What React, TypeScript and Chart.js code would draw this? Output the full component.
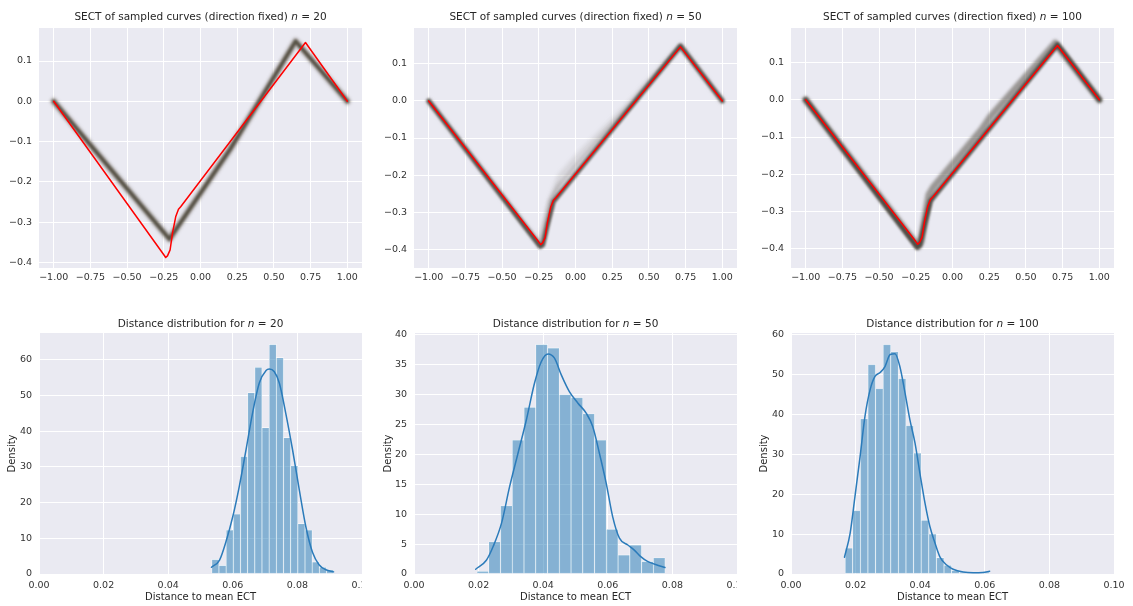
import React, { useEffect, useRef } from 'react';
import { Chart, registerables } from 'chart.js';

Chart.register(...registerables);
Chart.defaults.font.family = "'DejaVu Sans'";

// ---------------- data ----------------
const topXTicks = [-1, -0.75, -0.5, -0.25, 0, 0.25, 0.5, 0.75, 1];
const topYTicks = [-0.4, -0.3, -0.2, -0.1, 0, 0.1];
const histXTicks = [0, 0.02, 0.04, 0.06, 0.08, 0.1];
const hist20YTicks = [0, 10, 20, 30, 40, 50, 60];
const hist50YTicks = [0, 5, 10, 15, 20, 25, 30, 35, 40];
const hist100YTicks = [0, 10, 20, 30, 40, 50, 60];

// true (red) curve
const trueX = [-1, -0.25, -0.237, -0.225, -0.207, -0.191, -0.169, -0.15, -0.135, 0.715, 1];
const trueY = [0, -0.381, -0.388, -0.384, -0.369, -0.328, -0.287, -0.268, -0.262, 0.146, 0];

// sampled curves, n = 20
const band20X = [-1, -0.212, 0.2, 0.4, 0.648, 1];
const band20Y = [0, -0.342, -0.12, 0.0, 0.149, 0];

// sampled curves, n = 50
const band50X = [-1, -0.24, -0.222, -0.19, -0.15, -0.13, 0.715, 1];
const band50Y = [0, -0.393, -0.389, -0.335, -0.272, -0.262, 0.149, 0];
const spread50X = [-1, -0.24, -0.17, -0.11, 0.0, 0.1, 0.25, 0.4, 0.715, 1];
const spread50UpperY = [0, -0.39, -0.27, -0.205, -0.155, -0.114, -0.055, 0.007, 0.15, 0];
const spread50MidY = [0, -0.39, -0.27, -0.228, -0.176, -0.132, -0.066, 0.001, 0.148, 0];

// sampled curves, n = 100
const core100X = [-1, -0.24, -0.222, -0.19, -0.15, -0.13, 0.715, 1];
const core100Y = [0, -0.396, -0.39, -0.335, -0.272, -0.262, 0.148, 0];
const band100X = [-1, -0.235, -0.215, -0.16, -0.13, 0.2, 0.26, 0.7, 1];
const band100Y = [0, -0.394, -0.38, -0.255, -0.235, -0.08, -0.045, 0.152, 0];

// histograms
const hist20Centers = [0.05461, 0.05683, 0.05905, 0.06127, 0.06349, 0.06571, 0.06793, 0.07015, 0.07237, 0.07459, 0.07681, 0.07903, 0.08125, 0.08347, 0.08569, 0.08791, 0.09013];
const hist20Heights = [4.1, 2.4, 12.3, 16.8, 32.9, 50.8, 57.9, 41.0, 64.3, 60.6, 38.2, 30.3, 14.1, 12.3, 3.4, 1.9, 1.1];
const kde20X = [0.0534, 0.0559, 0.0579, 0.06, 0.062, 0.0641, 0.0661, 0.0682, 0.0703, 0.0713, 0.0728, 0.0744, 0.0764, 0.0785, 0.0806, 0.0826, 0.0847, 0.0867, 0.0888, 0.0912];
const kde20Y = [1.9, 3.9, 9.1, 16.1, 24.5, 34.8, 45.0, 53.5, 57.0, 57.4, 56.7, 53.5, 45.0, 34.8, 23.5, 13.3, 6.0, 2.6, 1.2, 0.6];

const hist50Centers = [0.02132, 0.02496, 0.0286, 0.03224, 0.03588, 0.03952, 0.04316, 0.0468, 0.05044, 0.05408, 0.05772, 0.06136, 0.065, 0.06864, 0.07228, 0.07592];
const hist50Heights = [0.45, 5.4, 11.4, 22.4, 27.9, 38.4, 37.8, 30.0, 29.5, 26.8, 22.4, 7.5, 3.2, 4.85, 2.1, 2.7];
const kde50X = [0.0191, 0.0224, 0.0245, 0.0271, 0.0296, 0.0322, 0.0348, 0.0373, 0.0394, 0.0415, 0.0435, 0.0456, 0.0481, 0.0507, 0.0533, 0.0553, 0.0574, 0.0595, 0.0615, 0.0636, 0.0662, 0.0682, 0.0702, 0.0723, 0.0777];
const kde50Y = [0.8, 2.3, 4.6, 8.5, 14.6, 20.2, 25.8, 31.9, 35.5, 36.8, 36.1, 33.3, 30.5, 28.6, 26.9, 24.7, 20.2, 15.2, 9.6, 6.0, 4.85, 4.0, 2.9, 2.1, 1.1];

const hist100Centers = [0.01794, 0.02029, 0.02265, 0.025, 0.02736, 0.02971, 0.03207, 0.03442, 0.03678, 0.03913, 0.04149, 0.04384, 0.0462, 0.04855, 0.05091, 0.05326, 0.05562, 0.05797, 0.06033];
const hist100Heights = [6.5, 15.9, 38.9, 52.5, 46.5, 57.5, 55.7, 49.0, 37.2, 30.3, 13.5, 10.0, 4.1, 2.2, 0.9, 0.4, 0, 0, 0.4];
const kde100X = [0.01655, 0.0183, 0.0198, 0.0214, 0.0229, 0.0245, 0.026, 0.0276, 0.0291, 0.0307, 0.0322, 0.0337, 0.0353, 0.0368, 0.0384, 0.0399, 0.0415, 0.043, 0.0446, 0.0461, 0.0481, 0.0502, 0.0533, 0.0564, 0.0594, 0.0615];
const kde100Y = [4.2, 10.2, 19.4, 29.5, 39.5, 46.2, 49.5, 50.5, 52.0, 55.0, 55.2, 52.0, 45.4, 38.7, 32.8, 25.3, 17.7, 11.9, 7.7, 4.3, 2.3, 1.2, 0.5, 0.3, 0.4, 0.7];

// ---------------- helpers ----------------
const FONT = "'DejaVu Sans'";
const TEXT = '#262626';
const TICK = '#333333';

const fmt = (v: number, d: number) => {
  const val = Math.abs(v) < 1e-9 ? 0 : v;
  return val.toFixed(d).replace('-', '\u2212');
};

function lineDS(xs: number[], ys: number[], color: string, width: number, order: number, blur = 0, extra: any = {}) {
  return {
    type: 'line',
    data: xs.map((x, i) => ({ x, y: ys[i] })),
    borderColor: color,
    borderWidth: width,
    pointRadius: 0,
    fill: false,
    tension: 0,
    borderJoinStyle: 'round',
    borderCapStyle: 'round',
    order,
    blur,
    ...extra,
  };
}

function histDS(centers: number[], heights: number[]) {
  return {
    type: 'bar',
    data: centers.map((x, i) => ({ x, y: heights[i] })),
    backgroundColor: 'rgba(31,119,180,0.5)',
    borderColor: 'rgba(255,255,255,0.9)',
    borderWidth: 0.6,
    borderSkipped: false,
    barPercentage: 1,
    categoryPercentage: 1,
    order: 1,
  };
}

function kdeDS(xs: number[], ys: number[]) {
  return lineDS(xs, ys, '#2b7bba', 1.5, 0, 0, { tension: 0.35, cubicInterpolationMode: 'monotone' });
}

const redDS = () => lineDS(trueX, trueY, 'rgb(255,0,0)', 1.5, 0);

type Spec = {
  L: number; T: number; W: number; H: number;
  area: [number, number, number, number];
  xMin: number; xMax: number; yMin: number; yMax: number;
  xTicks: number[]; yTicks: number[]; xDec: number; yDec: number;
  xPad: number;
  datasets: any[];
  title: [string, string, string];
  titleY: number;
  xLabel?: string; xLabelY?: number;
  yLabel?: string; yLabelX?: number;
};

const specs: Spec[] = [
  {
    L: 0, T: 0, W: 375, H: 295, area: [39, 28, 362, 268],
    xMin: -1.1, xMax: 1.1, yMin: -0.414, yMax: 0.182,
    xTicks: topXTicks, yTicks: topYTicks, xDec: 2, yDec: 1, xPad: 4,
    datasets: [
      redDS(),
      lineDS(band20X, band20Y, 'rgba(80,75,62,0.92)', 4, 1, 0.9),
      lineDS(band20X, band20Y, 'rgba(105,98,86,0.35)', 7.5, 2, 1.8),
    ],
    title: ['SECT of sampled curves (direction fixed) ', 'n', ' = 20'], titleY: 17,
  },
  {
    L: 375, T: 0, W: 375, H: 295, area: [414, 28, 737, 268],
    xMin: -1.1, xMax: 1.1, yMin: -0.451, yMax: 0.197,
    xTicks: topXTicks, yTicks: topYTicks, xDec: 2, yDec: 1, xPad: 4,
    datasets: [
      redDS(),
      lineDS(band50X, band50Y, 'rgba(70,66,58,0.85)', 4.5, 1, 1),
      lineDS(spread50X, spread50MidY, 'rgba(90,84,74,0.25)', 5, 2, 1.5),
      lineDS(spread50X, spread50UpperY, 'rgba(110,104,94,0.2)', 4, 3, 2),
    ],
    title: ['SECT of sampled curves (direction fixed) ', 'n', ' = 50'], titleY: 17,
  },
  {
    L: 750, T: 0, W: 383, H: 295, area: [791, 28, 1114, 268],
    xMin: -1.1, xMax: 1.1, yMin: -0.452, yMax: 0.193,
    xTicks: topXTicks, yTicks: topYTicks, xDec: 2, yDec: 1, xPad: 4,
    datasets: [
      redDS(),
      lineDS(core100X, core100Y, 'rgba(70,66,58,0.88)', 5, 1, 1),
      lineDS(band100X, band100Y, 'rgba(90,84,72,0.55)', 7, 2, 1.6),
    ],
    title: ['SECT of sampled curves (direction fixed) ', 'n', ' = 100'], titleY: 17,
  },
  {
    L: 0, T: 295, W: 362, H: 311, area: [39, 333, 362, 574],
    xMin: 0, xMax: 0.1, yMin: 0, yMax: 67.5,
    xTicks: histXTicks, yTicks: hist20YTicks, xDec: 2, yDec: 0, xPad: 6,
    datasets: [kdeDS(kde20X, kde20Y), histDS(hist20Centers, hist20Heights)],
    title: ['Distance distribution for ', 'n', ' = 20'], titleY: 324,
    xLabel: 'Distance to mean ECT', xLabelY: 597, yLabel: 'Density', yLabelX: 12,
  },
  {
    L: 375, T: 295, W: 362, H: 311, area: [414, 333, 737, 574],
    xMin: 0, xMax: 0.1, yMin: 0, yMax: 40.3,
    xTicks: histXTicks, yTicks: hist50YTicks, xDec: 2, yDec: 0, xPad: 6,
    datasets: [kdeDS(kde50X, kde50Y), histDS(hist50Centers, hist50Heights)],
    title: ['Distance distribution for ', 'n', ' = 50'], titleY: 324,
    xLabel: 'Distance to mean ECT', xLabelY: 597, yLabel: 'Density', yLabelX: 388,
  },
  {
    L: 750, T: 295, W: 383, H: 311, area: [791, 333, 1114, 574],
    xMin: 0, xMax: 0.1, yMin: 0, yMax: 60.4,
    xTicks: histXTicks, yTicks: hist100YTicks, xDec: 2, yDec: 0, xPad: 6,
    datasets: [kdeDS(kde100X, kde100Y), histDS(hist100Centers, hist100Heights)],
    title: ['Distance distribution for ', 'n', ' = 100'], titleY: 324,
    xLabel: 'Distance to mean ECT', xLabelY: 597, yLabel: 'Density', yLabelX: 764,
  },
];

function Panel({ spec }: { spec: Spec }) {
  const ref = useRef<HTMLCanvasElement>(null);
  useEffect(() => {
    const canvas = ref.current;
    if (!canvas) return;
    const { L, T, W, H, area } = spec;
    const [x0, y0, x1, y1] = area;

    const bgPlugin = {
      id: 'bgArea',
      beforeDraw(c: any) {
        const a = c.chartArea;
        const ctx = c.ctx;
        ctx.save();
        ctx.fillStyle = '#EAEAF2';
        ctx.fillRect(a.left, a.top, a.right - a.left, a.bottom - a.top);
        ctx.restore();
      },
    };
    const blurPlugin = {
      id: 'blurDs',
      beforeDatasetDraw(c: any, args: any) {
        const ds: any = c.data.datasets[args.index];
        if (ds.blur) {
          c.ctx.save();
          c.ctx.filter = `blur(${ds.blur}px)`;
        }
      },
      afterDatasetDraw(c: any, args: any) {
        const ds: any = c.data.datasets[args.index];
        if (ds.blur) c.ctx.restore();
      },
    };
    const textPlugin = {
      id: 'texts',
      afterDraw(c: any) {
        const ctx = c.ctx;
        ctx.save();
        ctx.fillStyle = TEXT;
        ctx.textBaseline = 'middle';
        ctx.textAlign = 'left';
        const normal = `10.5px ${FONT}`;
        const ital = `italic 10.5px ${FONT}`;
        const [t1, t2, t3] = spec.title;
        ctx.font = normal;
        const w1 = ctx.measureText(t1).width;
        const w3 = ctx.measureText(t3).width;
        ctx.font = ital;
        const w2 = ctx.measureText(t2).width;
        const cx = (x0 + x1) / 2 - L;
        let x = cx - (w1 + w2 + w3) / 2;
        const ty = spec.titleY - T;
        ctx.font = normal; ctx.fillText(t1, x, ty); x += w1;
        ctx.font = ital; ctx.fillText(t2, x, ty); x += w2;
        ctx.font = normal; ctx.fillText(t3, x, ty);
        if (spec.xLabel) {
          ctx.font = `10px ${FONT}`;
          ctx.textAlign = 'center';
          ctx.fillText(spec.xLabel, cx, (spec.xLabelY as number) - T);
        }
        if (spec.yLabel) {
          ctx.font = `10px ${FONT}`;
          ctx.textAlign = 'center';
          ctx.translate((spec.yLabelX as number) - L, (y0 + y1) / 2 - T);
          ctx.rotate(-Math.PI / 2);
          ctx.fillText(spec.yLabel, 0, 0);
        }
        ctx.restore();
      },
    };

    const chart = new Chart(canvas, {
      type: 'line',
      data: { datasets: spec.datasets as any },
      options: {
        animation: false,
        responsive: false,
        maintainAspectRatio: false,
        events: [],
        layout: {
          autoPadding: false,
          padding: { left: 0, top: y0 - T, right: L + W - x1, bottom: 0 },
        },
        plugins: {
          legend: { display: false },
          tooltip: { enabled: false },
          title: { display: false },
        },
        scales: {
          x: {
            type: 'linear',
            position: 'bottom',
            min: spec.xMin,
            max: spec.xMax,
            offset: false,
            afterBuildTicks: (s: any) => { s.ticks = spec.xTicks.map((v) => ({ value: v })); },
            afterFit: (s: any) => { s.height = T + H - y1; s.paddingLeft = 0; s.paddingRight = 0; },
            ticks: {
              callback: (v: any) => fmt(Number(v), spec.xDec),
              font: { size: 9.5, family: FONT },
              color: TICK,
              padding: spec.xPad,
              maxRotation: 0,
              minRotation: 0,
              autoSkip: false,
            },
            grid: { color: '#ffffff', lineWidth: 1, drawTicks: false, offset: false },
            border: { display: false },
          },
          y: {
            type: 'linear',
            position: 'left',
            min: spec.yMin,
            max: spec.yMax,
            afterBuildTicks: (s: any) => { s.ticks = spec.yTicks.map((v) => ({ value: v })); },
            afterFit: (s: any) => { s.width = x0 - L; s.paddingTop = 0; s.paddingBottom = 0; },
            ticks: {
              callback: (v: any) => fmt(Number(v), spec.yDec),
              font: { size: 9.5, family: FONT },
              color: TICK,
              padding: 7,
              autoSkip: false,
            },
            grid: { color: '#ffffff', lineWidth: 1, drawTicks: false },
            border: { display: false },
          },
        },
      } as any,
      plugins: [bgPlugin, blurPlugin, textPlugin] as any,
    });
    return () => chart.destroy();
  }, [spec]);
  return (
    <canvas
      ref={ref}
      width={spec.W}
      height={spec.H}
      style={{ position: 'absolute', left: spec.L, top: spec.T, width: spec.W, height: spec.H }}
    />
  );
}

export default function App() {
  return (
    <div style={{ position: 'absolute', left: 0, top: 0, width: 1133, height: 606, background: '#ffffff', overflow: 'hidden' }}>
      {specs.map((s, i) => (
        <Panel key={i} spec={s} />
      ))}
    </div>
  );
}
